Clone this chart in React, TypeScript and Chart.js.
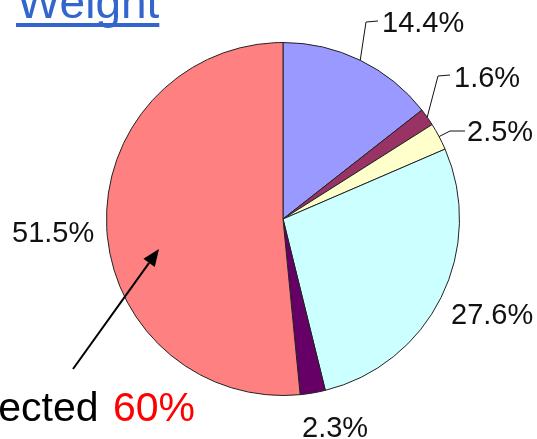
import React, { useEffect, useRef } from "react";
import { Chart, registerables } from "chart.js";

Chart.register(...registerables);

const categories = ["A", "B", "C", "D", "E", "F"];
const values = [14.4, 1.6, 2.5, 27.6, 2.3, 51.5];
const colors = ["#9999FF", "#993366", "#FFFFCC", "#CCFFFF", "#660066", "#FF8080"];
const labelTexts = values.map((v) => v.toFixed(1) + "%");
const titleText = "Weight";
const noteText = "Expected ";
const noteValue = "60%";

// layout of labels: text left x, baseline y, optional leader elbow
const labelLayout = [
  { x: 382, y: 32, elbow: [366, 22], end: [378, 21] },
  { x: 454, y: 87, elbow: [438, 76], end: [450, 75] },
  { x: 467, y: 141, elbow: [450, 131], end: [465, 131] },
  { x: 451, y: 324 },
  { x: 302, y: 437 },
  { x: 12, y: 242 },
];

const FONT = '"Liberation Sans", Arial, sans-serif';

const overlayPlugin = {
  id: "overlay",
  afterDraw(chart: any) {
    const ctx = chart.ctx as CanvasRenderingContext2D;
    const meta = chart.getDatasetMeta(0);
    ctx.save();
    // labels & leaders
    ctx.font = `29px ${FONT}`;
    ctx.fillStyle = "#111";
    ctx.textBaseline = "alphabetic";
    ctx.textAlign = "left";
    meta.data.forEach((arc: any, i: number) => {
      const L = labelLayout[i];
      if (L.elbow) {
        const mid = (arc.startAngle + arc.endAngle) / 2;
        const sx = arc.x + Math.cos(mid) * arc.outerRadius;
        const sy = arc.y + Math.sin(mid) * arc.outerRadius;
        ctx.beginPath();
        ctx.strokeStyle = "#111";
        ctx.lineWidth = 1;
        ctx.moveTo(sx, sy);
        ctx.lineTo(L.elbow[0], L.elbow[1]);
        ctx.lineTo(L.end![0], L.end![1]);
        ctx.stroke();
      }
      ctx.fillText(labelTexts[i], L.x, L.y);
    });

    // title
    ctx.font = `46px ${FONT}`;
    ctx.fillStyle = "#3366CC";
    ctx.fillText(titleText, 17, 18);
    const tw = ctx.measureText(titleText).width;
    ctx.fillRect(16, 23, tw + 1, 4);

    // arrow
    const ax0 = 73, ay0 = 369, ax1 = 159, ay1 = 249;
    const ang = Math.atan2(ay1 - ay0, ax1 - ax0);
    const hl = 17, hw = 7;
    ctx.strokeStyle = "#000";
    ctx.fillStyle = "#000";
    ctx.lineWidth = 2;
    ctx.beginPath();
    ctx.moveTo(ax0, ay0);
    ctx.lineTo(ax1 - Math.cos(ang) * hl, ay1 - Math.sin(ang) * hl);
    ctx.stroke();
    const bx = ax1 - Math.cos(ang) * hl, by = ay1 - Math.sin(ang) * hl;
    ctx.beginPath();
    ctx.moveTo(ax1, ay1);
    ctx.lineTo(bx + Math.sin(ang) * hw, by - Math.cos(ang) * hw);
    ctx.lineTo(bx - Math.sin(ang) * hw, by + Math.cos(ang) * hw);
    ctx.closePath();
    ctx.fill();

    // note text
    ctx.font = `41px ${FONT}`;
    ctx.textAlign = "right";
    ctx.fillStyle = "#FF0000";
    ctx.fillText(noteValue, 195, 421);
    const vw = ctx.measureText(noteValue).width;
    ctx.fillStyle = "#000";
    ctx.fillText(noteText, 195 - vw - 3, 421);
    ctx.restore();
  },
};

export default function App() {
  const ref = useRef<HTMLCanvasElement>(null);
  useEffect(() => {
    document.body.style.margin = "0";
    const chart = new Chart(ref.current!, {
      type: "pie",
      data: {
        labels: categories,
        datasets: [
          {
            data: values,
            backgroundColor: colors,
            borderColor: "#222",
            borderWidth: 1,
          },
        ],
      },
      options: {
        responsive: false,
        animation: false,
        layout: { padding: { left: 106, right: 77, top: 42, bottom: 43 } },
        plugins: { legend: { display: false }, tooltip: { enabled: false } },
      },
      plugins: [overlayPlugin],
    });
    return () => chart.destroy();
  }, []);
  return (
    <div style={{ width: 537, height: 439, background: "#fff" }}>
      <canvas ref={ref} width={537} height={439} style={{ display: "block" }} />
    </div>
  );
}
